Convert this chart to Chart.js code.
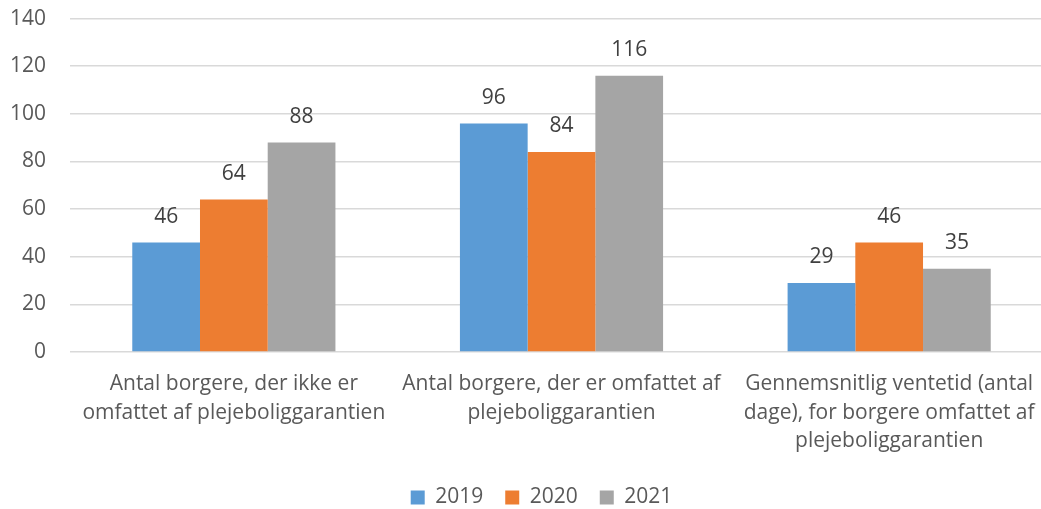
<!DOCTYPE html>
<html>
<head>
<meta charset="utf-8">
<script src="https://cdn.jsdelivr.net/npm/chart.js@4.4.0/dist/chart.umd.min.js"></script>
<style>
html,body{margin:0;padding:0;background:#fff;overflow:hidden;}
#wrap{position:absolute;left:-25px;top:-18px;width:1078px;height:536px;}
</style>
</head>
<body>
<div id="wrap"><canvas id="c"></canvas></div>
<script>
const categories = [
  ["Antal borgere, der ikke er", "omfattet af plejeboliggarantien"],
  ["Antal borgere, der er omfattet af", "plejeboliggarantien"],
  ["Gennemsnitlig ventetid (antal", "dage), for borgere omfattet af", "plejeboliggarantien"]
];
const seriesNames = ["2019", "2020", "2021"];
const values2019 = [46, 96, 29];
const values2020 = [64, 84, 46];
const values2021 = [88, 116, 35];
const yMin = 0, yMax = 140, yStep = 20;

const FONT = "'Open Sans', 'Noto Sans', sans-serif";

const dataLabels = {
  id: 'dataLabels',
  afterDatasetsDraw(chart) {
    const ctx = chart.ctx;
    ctx.save();
    ctx.font = "21px " + FONT;
    ctx.fillStyle = '#404040';
    ctx.textAlign = 'center';
    ctx.textBaseline = 'middle';
    chart.data.datasets.forEach((ds, i) => {
      chart.getDatasetMeta(i).data.forEach((bar, j) => {
        ctx.fillText(String(ds.data[j]), bar.x, bar.y - 25.5);
      });
    });
    ctx.restore();
  }
};

const legendShift = {
  id: 'legendShift',
  afterLayout(chart) {
    if (chart.legend) { chart.legend.left += 22; chart.legend.right += 22; }
  }
};

new Chart(document.getElementById('c'), {
  type: 'bar',
  data: {
    labels: categories,
    datasets: [
      { label: seriesNames[0], data: values2019, backgroundColor: '#5b9bd5' },
      { label: seriesNames[1], data: values2020, backgroundColor: '#ed7d31' },
      { label: seriesNames[2], data: values2021, backgroundColor: '#a5a5a5' }
    ]
  },
  options: {
    responsive: true,
    maintainAspectRatio: false,
    animation: false,
    devicePixelRatio: 1,
    layout: { padding: { left: 11, right: 0, top: 0, bottom: 0 } },
    datasets: { bar: { categoryPercentage: 0.62, barPercentage: 1.0 } },
    plugins: {
      tooltip: { enabled: false },
      legend: {
        position: 'bottom',
        labels: {
          font: { size: 21, family: FONT },
          color: '#595959',
          boxWidth: 14, boxHeight: 14,
          padding: 22
        }
      }
    },
    scales: {
      x: {
        grid: { display: false },
        border: { display: false },
        ticks: {
          font: { size: 21, family: FONT, lineHeight: 1.38 },
          color: '#595959',
          maxRotation: 0, autoSkip: false, padding: 9
        }
      },
      y: {
        min: yMin, max: yMax,
        border: { display: false },
        grid: { color: '#d9d9d9', lineWidth: 1.5, drawTicks: false },
        ticks: {
          stepSize: yStep,
          font: { size: 21, family: FONT },
          color: '#595959',
          padding: 24
        }
      }
    }
  },
  plugins: [dataLabels, legendShift]
});
</script>
</body>
</html>
